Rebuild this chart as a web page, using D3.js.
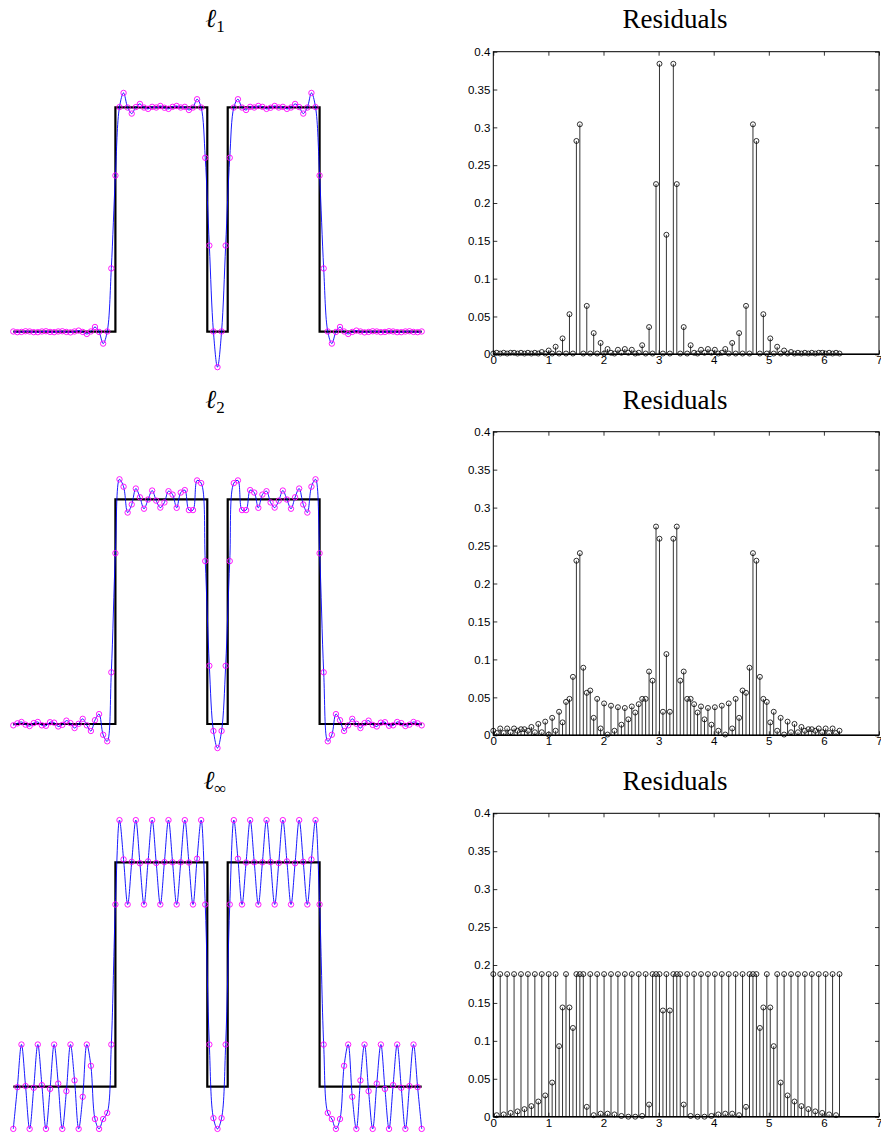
<!DOCTYPE html>
<html><head><meta charset="utf-8">
<script src="https://cdn.jsdelivr.net/npm/d3@7"></script>
<style>body{margin:0;background:#fff}</style>
</head><body>
<svg id="chart" width="881" height="1136"></svg>
<script>
// ---------- data ----------
const sampleX = [0,0.0628,0.1257,0.1885,0.2513,0.3142,0.3770,0.4398,0.5027,0.5655,
 0.6283,0.6912,0.7540,0.8168,0.8796,0.9425,1.0053,1.0681,1.1310,1.1938,
 1.2566,1.3195,1.3823,1.4451,1.5080,1.5708,1.6336,1.6965,1.7593,1.8221,
 1.8850,1.9478,2.0106,2.0735,2.1363,2.1991,2.2619,2.3248,2.3876,2.4504,
 2.5133,2.5761,2.6389,2.7018,2.7646,2.8274,2.8903,2.9531,3.0159,3.0788,
 3.1416,3.2044,3.2673,3.3301,3.3929,3.4558,3.5186,3.5814,3.6442,3.7071,
 3.7699,3.8327,3.8956,3.9584,4.0212,4.0841,4.1469,4.2097,4.2726,4.3354,
 4.3982,4.4611,4.5239,4.5867,4.6496,4.7124,4.7752,4.8381,4.9009,4.9637,
 5.0265,5.0894,5.1522,5.2150,5.2779,5.3407,5.4035,5.4664,5.5292,5.5920,
 5.6549,5.7177,5.7805,5.8434,5.9062,5.9690,6.0319,6.0947,6.1575,6.2204,
 6.2832];

// square wave (target signal) breakpoints
const stepX = [0, 1.5708, 2.9845, 3.2987, 4.7124, 6.2832];
const stepY = [0, 1, 0, 1, 0, 0];

const fitL1 = [0.001,-0.002,-0.001,0.002,0.001,-0.002,-0.002,0.001,0.002,-0.001,
 -0.002,0.001,0.002,-0.001,-0.003,0.001,0.005,-0.001,-0.010,0.001,
 0.021,-0.001,-0.053,0.001,0.282,0.696,1.001,1.064,0.999,0.972,
 1.001,1.015,0.999,0.993,1.002,0.999,1.006,0.998,0.993,1.002,
 1.006,0.999,1.002,0.988,0.999,1.036,0.999,0.775,0.384,0.001,
 -0.158,0.001,0.384,0.775,0.999,1.036,0.999,0.988,1.002,0.999,
 1.006,1.002,0.993,0.998,1.006,0.999,1.002,0.993,0.999,1.015,
 1.001,0.972,0.999,1.064,1.001,0.696,0.282,0.001,-0.053,-0.001,
 0.021,0.001,-0.010,-0.001,0.005,0.001,-0.003,-0.001,0.002,0.001,
 -0.002,-0.001,0.002,0.001,-0.002,-0.002,0.001,0.002,-0.001,-0.002,
 0.001];
const resL1 = [0.001,0.002,0.001,0.002,0.001,0.002,0.002,0.001,0.002,0.001,
 0.002,0.001,0.002,0.001,0.003,0.001,0.005,0.001,0.010,0.001,
 0.021,0.001,0.053,0.001,0.282,0.304,0.001,0.064,0.001,0.028,
 0.001,0.015,0.001,0.007,0.002,0.001,0.006,0.002,0.007,0.002,
 0.006,0.001,0.002,0.012,0.001,0.036,0.001,0.225,0.384,0.001,
 0.158,0.001,0.384,0.225,0.001,0.036,0.001,0.012,0.002,0.001,
 0.006,0.002,0.007,0.002,0.006,0.001,0.002,0.007,0.001,0.015,
 0.001,0.028,0.001,0.064,0.001,0.304,0.282,0.001,0.053,0.001,
 0.021,0.001,0.010,0.001,0.005,0.001,0.003,0.001,0.002,0.001,
 0.002,0.001,0.002,0.001,0.002,0.002,0.001,0.002,0.001,0.002,
 0.001];

const fitL2 = [-0.006,0.003,0.009,-0.003,-0.009,0.004,0.009,-0.006,-0.008,0.008,
 0.006,-0.011,-0.004,0.015,0.004,-0.018,0.001,0.023,-0.006,-0.031,
 0.017,0.044,-0.048,-0.077,0.230,0.760,1.089,1.056,0.941,0.977,
 1.048,1.009,0.958,0.999,1.039,0.994,0.963,0.986,1.036,1.021,
 0.962,1.030,1.041,0.952,0.952,1.084,1.072,0.725,0.259,-0.031,
 -0.107,-0.031,0.259,0.725,1.072,1.084,0.952,0.952,1.041,1.030,
 0.962,1.021,1.036,0.986,0.963,0.994,1.039,0.999,0.958,1.009,
 1.048,0.977,0.941,1.056,1.089,0.760,0.230,-0.077,-0.048,0.044,
 0.017,-0.031,-0.006,0.023,0.001,-0.018,0.004,0.015,-0.004,-0.011,
 0.006,0.008,-0.008,-0.006,0.009,0.004,-0.009,-0.003,0.009,0.003,
 -0.006];
const resL2 = [0.006,0.003,0.009,0.003,0.009,0.004,0.009,0.006,0.008,0.008,
 0.006,0.011,0.004,0.015,0.004,0.018,0.001,0.023,0.006,0.031,
 0.017,0.044,0.048,0.077,0.230,0.240,0.089,0.056,0.059,0.023,
 0.048,0.009,0.042,0.001,0.039,0.006,0.037,0.014,0.036,0.021,
 0.038,0.030,0.041,0.048,0.048,0.084,0.072,0.275,0.259,0.031,
 0.107,0.031,0.259,0.275,0.072,0.084,0.048,0.048,0.041,0.030,
 0.038,0.021,0.036,0.014,0.037,0.006,0.039,0.001,0.042,0.009,
 0.048,0.023,0.059,0.056,0.089,0.240,0.230,0.077,0.048,0.044,
 0.017,0.031,0.006,0.023,0.001,0.018,0.004,0.015,0.004,0.011,
 0.006,0.008,0.008,0.006,0.009,0.004,0.009,0.003,0.009,0.003,
 0.006];

const fitLinf = [-0.188,-0.002,0.188,0.003,-0.188,-0.005,0.188,0.007,-0.188,-0.010,
 0.188,0.014,-0.188,-0.020,0.188,0.028,-0.188,-0.045,0.188,0.093,
 -0.144,-0.188,-0.144,-0.117,0.188,0.812,1.188,1.013,0.812,1.002,
 1.188,0.996,0.812,1.004,1.188,0.997,0.812,1.001,1.188,1.000,
 0.812,1.000,1.188,0.999,0.812,1.016,1.188,0.812,0.188,-0.140,
 -0.188,-0.140,0.188,0.812,1.188,1.016,0.812,0.999,1.188,1.000,
 0.812,1.000,1.188,1.001,0.812,0.997,1.188,1.004,0.812,0.996,
 1.188,1.002,0.812,1.013,1.188,0.812,0.188,-0.117,-0.144,-0.188,
 -0.144,0.093,0.188,-0.045,-0.188,0.028,0.188,-0.020,-0.188,0.014,
 0.188,-0.010,-0.188,0.007,0.188,-0.005,-0.188,0.003,0.188,-0.002,
 -0.188];
const resLinf = [0.188,0.002,0.188,0.003,0.188,0.005,0.188,0.007,0.188,0.010,
 0.188,0.014,0.188,0.020,0.188,0.028,0.188,0.045,0.188,0.093,
 0.144,0.188,0.144,0.117,0.188,0.188,0.188,0.013,0.188,0.002,
 0.188,0.004,0.188,0.004,0.188,0.003,0.188,0.001,0.188,0.000,
 0.188,0.000,0.188,0.001,0.188,0.016,0.188,0.188,0.188,0.140,
 0.188,0.140,0.188,0.188,0.188,0.016,0.188,0.001,0.188,0.000,
 0.188,0.000,0.188,0.001,0.188,0.003,0.188,0.004,0.188,0.004,
 0.188,0.002,0.188,0.013,0.188,0.188,0.188,0.117,0.144,0.188,
 0.144,0.093,0.188,0.045,0.188,0.028,0.188,0.020,0.188,0.014,
 0.188,0.010,0.188,0.007,0.188,0.005,0.188,0.003,0.188,0.002,
 0.188];

const normSubs = ["1", "2", "\u221E"];
const rightTitle = "Residuals";
const xTicks = [0, 1, 2, 3, 4, 5, 6, 7];
const yTicks = [0, 0.05, 0.1, 0.15, 0.2, 0.25, 0.3, 0.35, 0.4];
const yTickLabels = ["0", "0.05", "0.1", "0.15", "0.2", "0.25", "0.3", "0.35", "0.4"];

// ---------- layout ----------
const fits = [fitL1, fitL2, fitLinf];
const residuals = [resL1, resL2, resLinf];
const leftZero = [331.7, 724.0, 1086.7];
const leftOne  = [107.3, 499.3, 862.3];
const rightTop = [51.7, 431.7, 813.3];
const rightBot = [354.3, 735.3, 1116.7];
const titleY   = [28, 409, 790];

const svg = d3.select("#chart");
const xL = d3.scaleLinear().domain([0, 6.2832]).range([13.3, 421.7]);
const xR = d3.scaleLinear().domain([0, 7]).range([493.3, 879]);

for (let r = 0; r < 3; r++) {
  const yL = d3.scaleLinear().domain([0, 1]).range([leftZero[r], leftOne[r]]);
  const yR = d3.scaleLinear().domain([0, 0.4]).range([rightBot[r], rightTop[r]]);

  // ----- left panel -----
  const gl = svg.append("g");
  gl.append("path")
    .datum(d3.zip(stepX, stepY))
    .attr("d", d3.line().x(d => xL(d[0])).y(d => yL(d[1])).curve(d3.curveStepAfter))
    .attr("fill", "none").attr("stroke", "#000").attr("stroke-width", 2.2);
  gl.append("path")
    .datum(d3.zip(sampleX, fits[r]))
    .attr("d", d3.line().x(d => xL(d[0])).y(d => yL(d[1])).curve(d3.curveCatmullRom.alpha(0.5)))
    .attr("fill", "none").attr("stroke", "#0000ff").attr("stroke-width", 0.9);
  gl.selectAll("circle.m")
    .data(d3.zip(sampleX, fits[r]))
    .join("circle").attr("class", "m")
    .attr("cx", d => xL(d[0])).attr("cy", d => yL(d[1])).attr("r", 2.7)
    .attr("fill", "none").attr("stroke", "#ff00ff").attr("stroke-width", 0.9);

  const tl = gl.append("text")
    .attr("x", 215).attr("y", titleY[r] - 1)
    .attr("text-anchor", "middle")
    .attr("font-family", "'Liberation Serif','DejaVu Serif',serif")
    .attr("font-size", 26);
  tl.append("tspan").attr("font-style", "italic").text("\u2113");
  tl.append("tspan").attr("font-size", 17).attr("dy", 5).text(normSubs[r]);

  // ----- right panel -----
  const gr = svg.append("g");
  gr.append("text")
    .attr("x", 675).attr("y", titleY[r])
    .attr("text-anchor", "middle")
    .attr("font-family", "'Liberation Serif','DejaVu Serif',serif")
    .attr("font-size", 27)
    .text(rightTitle);

  const pts = d3.zip(sampleX, residuals[r]);
  gr.selectAll("line.stem").data(pts).join("line").attr("class", "stem")
    .attr("x1", d => xR(d[0])).attr("x2", d => xR(d[0]))
    .attr("y1", yR(0)).attr("y2", d => yR(d[1]))
    .attr("stroke", "#000").attr("stroke-width", 0.8);
  gr.selectAll("circle.s").data(pts).join("circle").attr("class", "s")
    .attr("cx", d => xR(d[0])).attr("cy", d => yR(d[1])).attr("r", 2.5)
    .attr("fill", "none").attr("stroke", "#000").attr("stroke-width", 0.8);

  const font = "'Liberation Sans', Arial, sans-serif";
  const axB = gr.append("g").attr("transform", `translate(0,${rightBot[r]})`)
    .call(d3.axisBottom(xR).tickValues(xTicks).tickFormat(d3.format("d")).tickSizeInner(-4).tickSizeOuter(0).tickPadding(2));
  const axT = gr.append("g").attr("transform", `translate(0,${rightTop[r]})`)
    .call(d3.axisTop(xR).tickValues(xTicks).tickFormat("").tickSizeInner(-4).tickSizeOuter(0));
  const axL = gr.append("g").attr("transform", `translate(${xR(0)},0)`)
    .call(d3.axisLeft(yR).tickValues(yTicks).tickFormat((d, i) => yTickLabels[i]).tickSizeInner(-4).tickSizeOuter(0).tickPadding(3));
  const axR = gr.append("g").attr("transform", `translate(${xR(7)},0)`)
    .call(d3.axisRight(yR).tickValues(yTicks).tickFormat("").tickSizeInner(-4).tickSizeOuter(0));
  [axB, axT, axL, axR].forEach(a => {
    a.select(".domain").remove();
    a.attr("font-family", font).attr("font-size", 11.5);
    a.selectAll("line").attr("stroke", "#000").attr("stroke-width", 0.8);
    a.selectAll("text").attr("fill", "#000");
  });
  gr.append("rect")
    .attr("x", xR(0)).attr("y", rightTop[r])
    .attr("width", xR(7) - xR(0)).attr("height", rightBot[r] - rightTop[r])
    .attr("fill", "none").attr("stroke", "#000").attr("stroke-width", 1);
  gr.append("line")
    .attr("x1", xR(0)).attr("x2", xR(7)).attr("y1", yR(0)).attr("y2", yR(0))
    .attr("stroke", "#000").attr("stroke-width", 1.4);
}
</script>
</body></html>
